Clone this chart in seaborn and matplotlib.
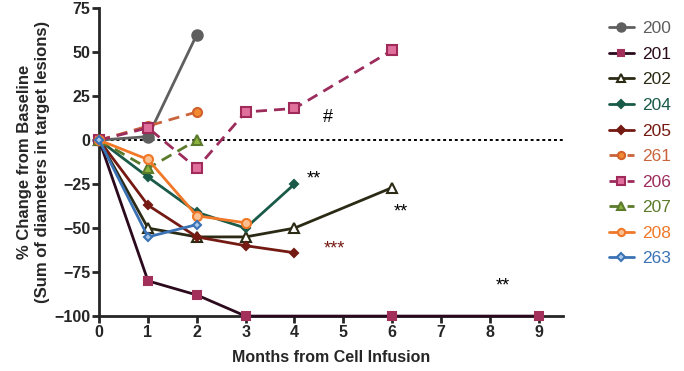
import pandas as pd
import matplotlib
matplotlib.use("Agg")
import matplotlib.pyplot as plt
import seaborn as sns

# patient series (months, % change)
ids = ['200', '201', '202', '204', '205', '261', '206', '207', '208', '263']
months = {
    '200': [0, 1, 2],
    '201': [0, 1, 2, 3, 6, 9],
    '202': [0, 1, 2, 3, 4, 6],
    '204': [0, 1, 2, 3, 4],
    '205': [0, 1, 2, 3, 4],
    '261': [0, 1, 2],
    '206': [0, 1, 2, 3, 4, 6],
    '207': [0, 1, 2],
    '208': [0, 1, 2, 3],
    '263': [0, 1, 2],
}
change = {
    '200': [0, 2, 60],
    '201': [0, -80, -88, -100, -100, -100],
    '202': [0, -50, -55, -55, -50, -27],
    '204': [0, -21, -41, -50, -25],
    '205': [0, -37, -55, -60, -64],
    '261': [0, 8, 16],
    '206': [0, 7, -16, 16, 18, 51],
    '207': [0, -16, 0],
    '208': [0, -11, -43, -47],
    '263': [0, -55, -48],
}

styles = {
    '200': dict(color='#5f5f5f', marker='o', mfc='#5f5f5f', mec='#5f5f5f', ms=7.5, ls='-'),
    '201': dict(color='#2a0a1c', marker='s', mfc='#a3305b', mec='#a3305b', ms=6, ls='-'),
    '202': dict(color='#2b2a14', marker='^', mfc='white', mec='#2b2a14', ms=6.5, ls='-'),
    '204': dict(color='#1a5a48', marker='D', mfc='#1a5a48', mec='#1a5a48', ms=4.5, ls='-'),
    '205': dict(color='#741a12', marker='D', mfc='#741a12', mec='#741a12', ms=4.5, ls='-'),
    '261': dict(color='#c9643c', marker='o', mfc='#f28a34', mec='#d2602a', ms=6.5, ls=(0, (4, 2.5))),
    '206': dict(color='#9c2c5c', marker='s', mfc='#e0709c', mec='#a02a5a', ms=6.5, ls=(0, (4, 2.5))),
    '207': dict(color='#5b7a2b', marker='^', mfc='#8db43f', mec='#5b7a2b', ms=6.5, ls=(0, (4, 2.5))),
    '208': dict(color='#f07828', marker='o', mfc='#fbc090', mec='#f07828', ms=6.5, ls='-'),
    '263': dict(color='#3a72b4', marker='D', mfc='#a9c9ea', mec='#3a72b4', ms=4.5, ls='-'),
}

rows = []
for pid in ids:
    for m, v in zip(months[pid], change[pid]):
        rows.append({'patient': pid, 'month': m, 'change': v})
df = pd.DataFrame(rows)

sns.set_style('ticks')
plt.rcParams['font.family'] = ['Liberation Sans', 'DejaVu Sans']

fig = plt.figure(figsize=(6.84, 3.71), dpi=100)
ax = fig.add_axes([0.145, 0.148, 0.678, 0.83])

ax.axhline(0, color='black', ls=(0, (1.5, 1.5)), lw=1.4, zorder=1)

for pid in ids:
    st = styles[pid]
    sub = df[df['patient'] == pid]
    sns.lineplot(data=sub, x='month', y='change', ax=ax, color=st['color'],
                 linestyle=st['ls'], linewidth=2, marker=st['marker'],
                 markersize=st['ms'], markerfacecolor=st['mfc'],
                 markeredgecolor=st['mec'], markeredgewidth=1.5,
                 label=pid, legend=False, clip_on=False, zorder=3)

# significance marks
ax.text(4.68, 13, '#', fontsize=13, ha='center', va='center', color='black')
ax.text(4.4, -22, '**', fontsize=13, ha='center', va='center', color='black')
ax.text(6.17, -41, '**', fontsize=13, ha='center', va='center', color='black')
ax.text(4.82, -62, '***', fontsize=13, ha='center', va='center', color='#741a12')
ax.text(8.27, -83, '**', fontsize=13, ha='center', va='center', color='black')

ax.set_xlim(0, 9.5)
ax.set_ylim(-100, 75)
ax.set_xticks(range(0, 10))
ax.set_yticks([-100, -75, -50, -25, 0, 25, 50, 75])
for lab in ax.get_xticklabels() + ax.get_yticklabels():
    lab.set_fontweight('bold')
    lab.set_fontsize(11.5)
ax.tick_params(width=2, length=5, pad=1.5)
for side in ['left', 'bottom']:
    ax.spines[side].set_linewidth(2)
sns.despine(ax=ax)

ax.set_xlabel('Months from Cell Infusion', fontsize=11.5, fontweight='bold', labelpad=7)
ax.set_ylabel('% Change from Baseline\n(Sum of diameters in target lesions)',
              fontsize=12, fontweight='bold', labelpad=3)

handles, labels = ax.get_legend_handles_labels()
fig.legend(handles, labels, loc='upper left', bbox_to_anchor=(0.868, 0.985),
           frameon=False, fontsize=12.5, labelcolor='linecolor', markerscale=0.8,
           handlelength=1.4, labelspacing=0.6, handletextpad=0.5)

fig.savefig('out.png', dpi=100)
